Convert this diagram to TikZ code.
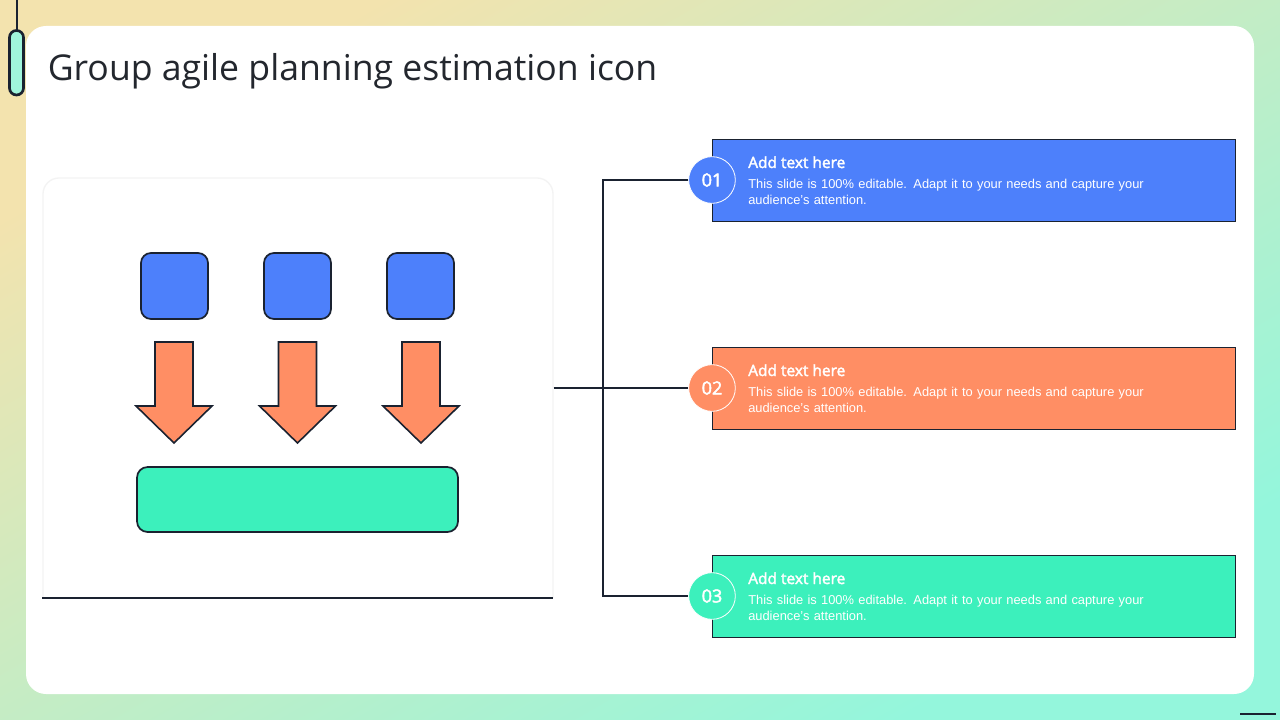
\documentclass[tikz,border=0pt]{standalone}
\usepackage{fontspec}
\setmainfont{Liberation Sans}
\newfontfamily\titlefont{Open Sans}
\newfontfamily\headfont{Open Sans}[RawFeature={embolden=2.4}]
\definecolor{ink}{HTML}{1A2230}
\definecolor{titleink}{HTML}{23272E}
\definecolor{bluef}{HTML}{4D80FB}
\definecolor{orangef}{HTML}{FF8E64}
\definecolor{greenf}{HTML}{3CF0BC}
\definecolor{mint}{HTML}{A0F5DC}
\definecolor{bgA}{HTML}{F3E3AE}
\definecolor{bgB}{HTML}{94F6DC}
\definecolor{panelline}{HTML}{F3F3F3}
\tikzset{
  x=0.75pt,y=-0.75pt,
  icon/.style={draw=ink,line width=1.3pt,rounded corners=7.5pt,inner sep=0pt,minimum width=50.25pt,minimum height=49.5pt},
  downarrow/.style={draw=ink,line width=1.2pt,fill=orangef,line join=miter},
  band/.style={draw=ink,line width=0.7pt,inner sep=0pt,minimum width=392.6pt,minimum height=61.2pt,anchor=north west},
  badge/.style={circle,draw=white,line width=0.6pt,inner sep=0pt,minimum size=35pt,text=white,font=\headfont\fontsize{13.5}{16}\selectfont},
  headtxt/.style={anchor=base west,inner sep=0pt,text=white,font=\headfont\fontsize{11.6}{14}\selectfont},
  bodytxt/.style={anchor=base west,inner sep=0pt,text=white,font=\fontsize{9.65}{12}\selectfont,align=left,text width=340pt},
  wire/.style={draw=ink,line width=1.5pt},
}
\pgfdeclareverticalshading{bgshade}{1600bp}{color(0bp)=(bgB);color(470bp)=(bgB);color(1130bp)=(bgA);color(1600bp)=(bgA)}
\begin{document}
\begin{tikzpicture}
\useasboundingbox (0,0) rectangle (1280,720);
% background
\begin{scope}
\clip (0,0) rectangle (1280,720);
\node[inner sep=0pt,rotate=30] (bg) at (640,360) {\pgfuseshading{bgshade}};
\end{scope}
% decorations
\draw[ink,line width=2pt] (17,0) -- (17,30);
\draw[ink,line width=2pt,fill=mint,rounded corners=5.2pt] (9.5,30.5) rectangle (23.5,95);
\draw[ink,line width=2.2pt] (1240,714) -- (1276,714);
\fill[white,rounded corners=15pt] (26,26) rectangle (1254,694);
\node[anchor=base west,inner sep=0pt,text=titleink,font=\titlefont\fontsize{26.7}{32}\selectfont] (title) at (47.5,81) {Group agile planning estimation icon};
% panel
\draw[panelline,line width=1pt,rounded corners=12pt,fill=white] (43,598) -- (43,178) -- (553,178) -- (553,598);
\node[inner sep=0pt,minimum width=382.5pt,minimum height=315pt,anchor=north west] (panel) at (43,178) {};
\draw[ink,line width=1.5pt] (42,598) -- (553,598);
% icons
\node[icon,fill=bluef] (s1) at (174.5,286) {};
\node[icon,fill=bluef] (s2) at (297.5,286) {};
\node[icon,fill=bluef] (s3) at (420.5,286) {};
\foreach \c in {174,297.5,421}{
  \draw[downarrow] (\c-19,342) -- (\c+19,342) -- (\c+19,406) -- (\c+38,406) -- (\c,443) -- (\c-38,406) -- (\c-19,406) -- cycle;
}
\node[draw=ink,line width=1.3pt,fill=greenf,rounded corners=8pt,inner sep=0pt,minimum width=240.75pt,minimum height=48.75pt] (bar) at (297.5,499.5) {};
% bands
\node[band,fill=bluef] (b1) at (712,139) {};
\node[band,fill=orangef] (b2) at (712,347) {};
\node[band,fill=greenf] (b3) at (712,555) {};
% connectors
\coordinate (bus) at (603,388);
\node[badge,fill=bluef] (c1) at (712,180) {01};
\node[badge,fill=orangef] (c2) at (712,388) {02};
\node[badge,fill=greenf] (c3) at (712,596) {03};
\draw[wire] (c1.west) -| (bus) |- (c3.west);
\draw[wire] (panel.east) -- (panel.east -| c2.west);
% texts
\foreach \n/\y in {1/168,2/376,3/584}{
  \node[headtxt] (h\n) at (748,\y) {Add text here};
  \pgfmathsetmacro{\yy}{\y+20.7}
  \node[bodytxt] (t\n) at (748,\yy) {This slide is 100\% editable. Adapt it to your needs and capture your\\[0pt]audience's attention.};
}
\end{tikzpicture}
\end{document}
